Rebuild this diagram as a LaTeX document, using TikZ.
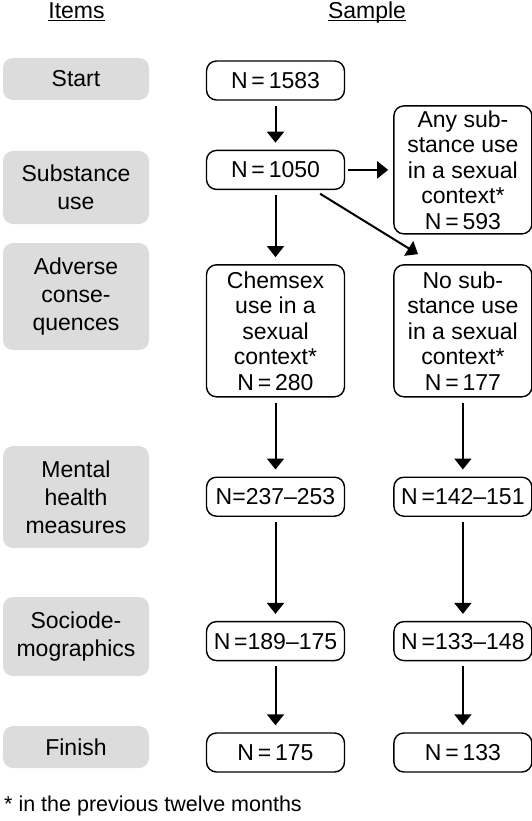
\documentclass[tikz,border=0pt]{standalone}
\usepackage{fontspec}
\setmainfont{Liberation Sans}
\usepackage{xcolor}
\usetikzlibrary{positioning, arrows.meta}
\definecolor{itemgray}{HTML}{DCDCDC}

\begin{document}
\begin{tikzpicture}[x=1pt, y=-1pt, font=\fontsize{23}{25.5}\selectfont]
	\tikzset{arrow/.style={-{Triangle[width=17pt, length=11pt]}, line width=2pt, shorten >= 7pt, shorten <= 5pt}}
	\tikzset{ItemBox/.style={fill=itemgray, rounded corners=10pt, minimum width=146pt, inner sep=0pt, align=center, font=\fontsize{23}{28}\selectfont}}
	\tikzset{SampleBox/.style={draw, line width=1.4pt, rounded corners=10pt, minimum width=138pt, minimum height=39pt, inner sep=0pt, align=center}}

	\useasboundingbox (0,0) rectangle (532,821);

	% Headers
	\node (items) [anchor=base, inner sep=0pt] at (76.5,19) {\underline{\smash{Items}}};
	\node (sample) [anchor=base, inner sep=0pt] at (367,19) {\underline{\smash{Sample}}};

	% Items
	\node (start) [ItemBox, minimum height=42pt] at (76,79) {Start};
	\node (substance) [ItemBox, minimum height=73pt] at (76,187.5) {Substance\\use};
	\node (adverse) [ItemBox, minimum height=107pt] at (76,296.5) {Adverse\\conse-\\quences};
	\node (mental) [ItemBox, minimum height=102pt] at (76,497) {Mental\\health\\measures};
	\node (socio) [ItemBox, minimum height=79pt] at (76,636.5) {Sociode-\\mographics};
	\node (finish) [ItemBox, minimum height=42pt] at (76,747) {Finish};

	% Sample, left column
	\node (n1583) [SampleBox] at (275.5,80.5) {N\,=\,1583};
	\node (n1050) [SampleBox, below = 49pt of n1583] {N\,=\,1050};
	\node (chemsex) [SampleBox, minimum height=132pt, below = 74pt of n1050] {Chemsex\\use in a\\sexual\\context*\\N\,=\,280};
	\node (mentalA) [SampleBox, below = 79pt of chemsex] {N=237--253};
	\node (socioA) [SampleBox, below = 104pt of mentalA] {N\,=189--175};
	\node (finishA) [SampleBox, below = 71pt of socioA] {N\,=\,175};

	% Sample, right column
	\node (anysub) [SampleBox, minimum height=128pt, right = 48pt of n1050] {Any sub-\\stance use\\in a sexual\\context*\\N\,=\,593};
	\node (nosub) [SampleBox, minimum height=132pt, right = 48pt of chemsex] {No sub-\\stance use\\in a sexual\\context*\\N\,=\,177};
	\node (mentalB) [SampleBox, right = 48pt of mentalA] {N\,=142--151};
	\node (socioB) [SampleBox, right = 48pt of socioA] {N\,=133--148};
	\node (finishB) [SampleBox, right = 48pt of finishA] {N\,=\,133};

	% Connections
	\draw [arrow] (n1583) -- (n1050);
	\draw [arrow, shorten <= 3pt, shorten >= 5pt] (n1050) -- (anysub);
	\draw [arrow] (n1050) -- (chemsex);
	\draw [arrow, shorten <= 7pt, shorten >= 19pt] ([xshift=-31pt]n1050.south east) -- ([xshift=41pt]nosub.north west);
	\draw [arrow] (chemsex) -- (mentalA);
	\draw [arrow] (mentalA) -- (socioA);
	\draw [arrow] (socioA) -- (finishA);
	\draw [arrow] (nosub) -- (mentalB);
	\draw [arrow] (mentalB) -- (socioB);
	\draw [arrow] (socioB) -- (finishB);

	% Footnote
	\node (note) [anchor=base west, inner sep=0pt, font=\fontsize{21.5}{25}\selectfont] at (4,811) {* in the previous twelve months};
\end{tikzpicture}
\end{document}
